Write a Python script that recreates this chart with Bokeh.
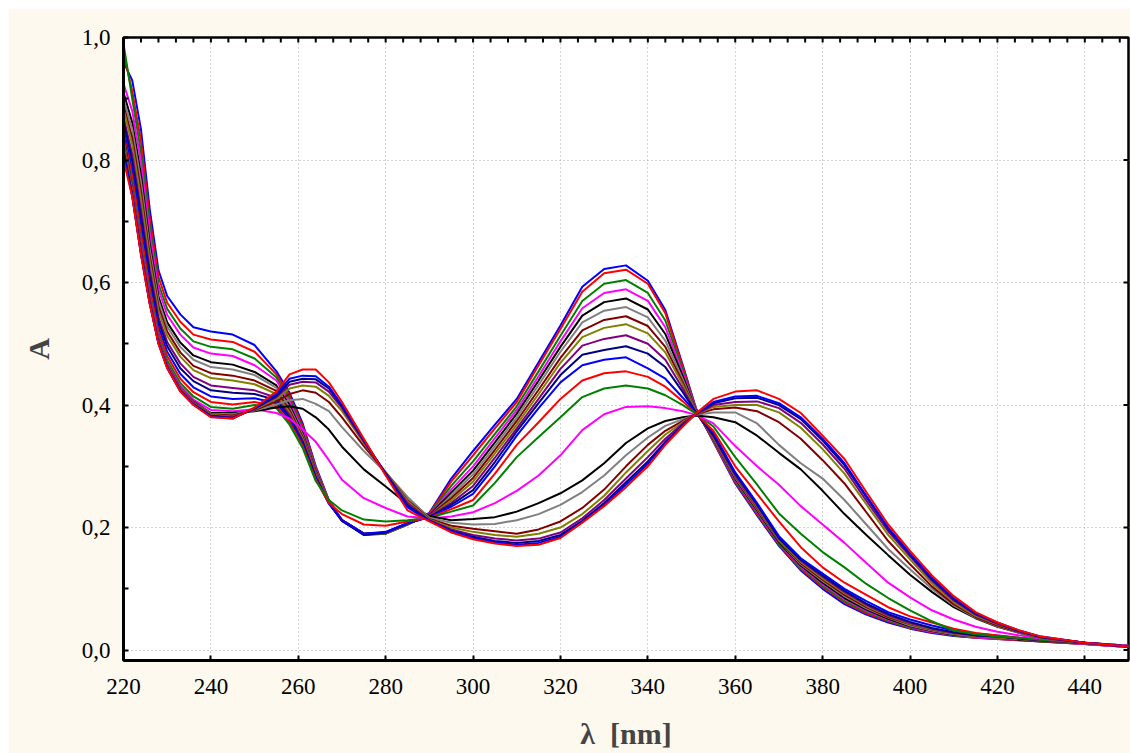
from bokeh.plotting import figure
from bokeh.models import Range1d, FixedTicker, CustomJSTickFormatter
from bokeh.embed import file_html
from bokeh.resources import INLINE

wavelength = [220, 222, 224, 226, 228, 230,
              233, 236, 240, 245, 250,
              255, 258, 261, 264, 267, 270,
              275, 280, 285, 290, 295, 300,
              305, 310, 315, 320, 325, 330,
              335, 340, 344, 348, 351, 355,
              360, 365, 370, 375, 380, 385,
              390, 395, 400, 405, 410, 415,
              420, 425, 430, 440, 450]

a01 = [0.96, 0.93, 0.85, 0.72, 0.62, 0.578,
       0.548, 0.527, 0.52, 0.515, 0.498,
       0.455, 0.42, 0.37, 0.30, 0.245, 0.212,
       0.188, 0.19, 0.205, 0.224, 0.28, 0.325,
       0.368, 0.41, 0.47, 0.53, 0.593, 0.622,
       0.628, 0.603, 0.555, 0.465, 0.395, 0.34,
       0.272, 0.22, 0.17, 0.13, 0.10, 0.075,
       0.058, 0.045, 0.035, 0.028, 0.023, 0.02,
       0.018, 0.016, 0.014, 0.01, 0.005]
a02 = [0.975, 0.912, 0.831, 0.705, 0.609, 0.567,
       0.536, 0.515, 0.507, 0.503, 0.487,
       0.45, 0.415, 0.366, 0.298, 0.244, 0.212,
       0.189, 0.19, 0.205, 0.223, 0.275, 0.318,
       0.362, 0.405, 0.465, 0.524, 0.585, 0.615,
       0.621, 0.598, 0.55, 0.462, 0.394, 0.341,
       0.274, 0.222, 0.172, 0.132, 0.103, 0.078,
       0.06, 0.047, 0.036, 0.029, 0.024, 0.02,
       0.018, 0.016, 0.014, 0.01, 0.005]
a03 = [0.99, 0.90, 0.813, 0.692, 0.598, 0.557,
       0.525, 0.504, 0.495, 0.491, 0.476,
       0.445, 0.41, 0.362, 0.296, 0.243, 0.212,
       0.189, 0.19, 0.205, 0.222, 0.268, 0.308,
       0.353, 0.398, 0.455, 0.513, 0.57, 0.598,
       0.604, 0.583, 0.538, 0.457, 0.393, 0.342,
       0.276, 0.224, 0.173, 0.134, 0.105, 0.08,
       0.062, 0.048, 0.037, 0.03, 0.024, 0.021,
       0.019, 0.017, 0.014, 0.01, 0.005]
a04 = [0.925, 0.88, 0.797, 0.68, 0.589, 0.547,
       0.515, 0.494, 0.484, 0.48, 0.465,
       0.44, 0.405, 0.358, 0.294, 0.243, 0.212,
       0.19, 0.191, 0.206, 0.221, 0.262, 0.30,
       0.346, 0.392, 0.447, 0.504, 0.558, 0.583,
       0.589, 0.57, 0.527, 0.452, 0.392, 0.343,
       0.278, 0.226, 0.175, 0.136, 0.108, 0.083,
       0.064, 0.05, 0.038, 0.03, 0.025, 0.021,
       0.019, 0.017, 0.015, 0.01, 0.005]
a05 = [0.91, 0.861, 0.776, 0.664, 0.577, 0.535,
       0.502, 0.481, 0.47, 0.466, 0.454,
       0.432, 0.40, 0.354, 0.292, 0.242, 0.212,
       0.19, 0.191, 0.206, 0.22, 0.257, 0.293,
       0.339, 0.386, 0.44, 0.495, 0.546, 0.568,
       0.574, 0.556, 0.516, 0.447, 0.391, 0.344,
       0.28, 0.228, 0.176, 0.138, 0.11, 0.085,
       0.066, 0.051, 0.039, 0.031, 0.025, 0.022,
       0.02, 0.017, 0.015, 0.011, 0.006]
a06 = [0.90, 0.85, 0.764, 0.655, 0.57, 0.528,
       0.495, 0.474, 0.462, 0.458, 0.449,
       0.428, 0.396, 0.351, 0.29, 0.242, 0.212,
       0.19, 0.191, 0.206, 0.219, 0.252, 0.287,
       0.333, 0.38, 0.433, 0.487, 0.535, 0.554,
       0.56, 0.543, 0.505, 0.442, 0.39, 0.345,
       0.282, 0.23, 0.178, 0.14, 0.113, 0.088,
       0.068, 0.053, 0.04, 0.032, 0.026, 0.022,
       0.02, 0.018, 0.015, 0.011, 0.006]
a07 = [0.89, 0.836, 0.749, 0.644, 0.561, 0.52,
       0.486, 0.464, 0.452, 0.448, 0.44,
       0.423, 0.392, 0.348, 0.288, 0.241, 0.212,
       0.19, 0.192, 0.206, 0.219, 0.248, 0.281,
       0.327, 0.374, 0.425, 0.477, 0.522, 0.539,
       0.545, 0.529, 0.495, 0.437, 0.389, 0.346,
       0.284, 0.232, 0.179, 0.142, 0.115, 0.09,
       0.07, 0.054, 0.042, 0.033, 0.027, 0.023,
       0.021, 0.018, 0.015, 0.011, 0.006]
a08 = [0.883, 0.825, 0.737, 0.635, 0.554, 0.513,
       0.479, 0.457, 0.444, 0.44, 0.434,
       0.418, 0.388, 0.345, 0.286, 0.241, 0.211,
       0.189, 0.192, 0.207, 0.218, 0.244, 0.275,
       0.321, 0.368, 0.418, 0.469, 0.511, 0.526,
       0.532, 0.517, 0.486, 0.433, 0.389, 0.347,
       0.285, 0.234, 0.18, 0.144, 0.117, 0.093,
       0.072, 0.056, 0.043, 0.034, 0.027, 0.023,
       0.021, 0.018, 0.016, 0.011, 0.006]
a09 = [0.87, 0.809, 0.719, 0.621, 0.543, 0.503,
       0.468, 0.446, 0.432, 0.428, 0.424,
       0.412, 0.384, 0.342, 0.284, 0.24, 0.211,
       0.189, 0.192, 0.207, 0.218, 0.24, 0.268,
       0.314, 0.362, 0.41, 0.459, 0.497, 0.508,
       0.514, 0.50, 0.474, 0.427, 0.388, 0.349,
       0.286, 0.236, 0.182, 0.146, 0.12, 0.095,
       0.074, 0.057, 0.044, 0.035, 0.028, 0.024,
       0.022, 0.019, 0.016, 0.011, 0.006]
a10 = [0.863, 0.798, 0.707, 0.612, 0.536, 0.496,
       0.46, 0.439, 0.424, 0.42, 0.418,
       0.408, 0.38, 0.339, 0.282, 0.24, 0.211,
       0.188, 0.192, 0.207, 0.217, 0.237, 0.261,
       0.307, 0.357, 0.403, 0.449, 0.482, 0.49,
       0.496, 0.484, 0.462, 0.421, 0.388, 0.351,
       0.288, 0.238, 0.183, 0.148, 0.122, 0.097,
       0.076, 0.059, 0.046, 0.036, 0.029, 0.024,
       0.022, 0.019, 0.016, 0.012, 0.006]
a11 = [0.852, 0.784, 0.693, 0.601, 0.528, 0.487,
       0.451, 0.429, 0.414, 0.41, 0.411,
       0.403, 0.376, 0.336, 0.28, 0.239, 0.212,
       0.19, 0.193, 0.207, 0.217, 0.234, 0.255,
       0.30, 0.35, 0.395, 0.437, 0.465, 0.474,
       0.478, 0.46, 0.443, 0.412, 0.387, 0.355,
       0.29, 0.24, 0.186, 0.15, 0.125, 0.10,
       0.08, 0.062, 0.05, 0.04, 0.032, 0.027,
       0.024, 0.02, 0.017, 0.012, 0.007]
a12 = [0.843, 0.772, 0.679, 0.591, 0.52, 0.48,
       0.443, 0.421, 0.405, 0.401, 0.405,
       0.398, 0.372, 0.333, 0.278, 0.24, 0.222,
       0.205, 0.203, 0.21, 0.216, 0.23, 0.245,
       0.288, 0.335, 0.372, 0.41, 0.44, 0.452,
       0.455, 0.446, 0.43, 0.406, 0.386, 0.358,
       0.30, 0.255, 0.21, 0.168, 0.135, 0.11,
       0.09, 0.07, 0.055, 0.045, 0.035, 0.028,
       0.024, 0.02, 0.017, 0.012, 0.007]
a13 = [0.835, 0.761, 0.667, 0.582, 0.513, 0.473,
       0.436, 0.414, 0.397, 0.394, 0.40,
       0.395, 0.368, 0.33, 0.276, 0.245, 0.228,
       0.213, 0.21, 0.212, 0.216, 0.226, 0.236,
       0.273, 0.315, 0.348, 0.38, 0.413, 0.427,
       0.432, 0.427, 0.416, 0.40, 0.386, 0.365,
       0.315, 0.27, 0.223, 0.19, 0.16, 0.135,
       0.108, 0.085, 0.065, 0.047, 0.032, 0.026,
       0.022, 0.02, 0.017, 0.012, 0.007]
a14 = [0.83, 0.754, 0.66, 0.576, 0.509, 0.468,
       0.431, 0.409, 0.392, 0.39, 0.393,
       0.387, 0.378, 0.36, 0.34, 0.31, 0.278,
       0.248, 0.232, 0.218, 0.215, 0.218, 0.225,
       0.24, 0.26, 0.285, 0.318, 0.359, 0.385,
       0.397, 0.398, 0.395, 0.39, 0.384, 0.37,
       0.333, 0.30, 0.27, 0.235, 0.205, 0.175,
       0.142, 0.11, 0.086, 0.065, 0.05, 0.038,
       0.03, 0.024, 0.019, 0.012, 0.007]
a15 = [0.84, 0.752, 0.655, 0.572, 0.506, 0.466,
       0.428, 0.406, 0.387, 0.387, 0.39,
       0.396, 0.398, 0.394, 0.38, 0.36, 0.332,
       0.295, 0.267, 0.238, 0.219, 0.212, 0.214,
       0.217, 0.226, 0.24, 0.256, 0.277, 0.305,
       0.338, 0.362, 0.374, 0.38, 0.383, 0.38,
       0.372, 0.35, 0.322, 0.295, 0.26, 0.222,
       0.188, 0.155, 0.123, 0.095, 0.07, 0.052,
       0.038, 0.028, 0.02, 0.012, 0.006]
a16 = [0.835, 0.75, 0.653, 0.571, 0.505, 0.465,
       0.427, 0.405, 0.386, 0.385, 0.391,
       0.401, 0.408, 0.41, 0.402, 0.39, 0.364,
       0.325, 0.29, 0.25, 0.216, 0.208, 0.205,
       0.206, 0.212, 0.222, 0.237, 0.258, 0.285,
       0.318, 0.347, 0.366, 0.377, 0.384, 0.388,
       0.388, 0.37, 0.335, 0.305, 0.28, 0.245,
       0.205, 0.165, 0.132, 0.10, 0.073, 0.053,
       0.039, 0.028, 0.02, 0.012, 0.006]
a17 = [0.83, 0.748, 0.651, 0.57, 0.504, 0.464,
       0.426, 0.404, 0.385, 0.383, 0.392,
       0.406, 0.418, 0.424, 0.42, 0.405, 0.38,
       0.333, 0.29, 0.245, 0.214, 0.203, 0.198,
       0.194, 0.19, 0.197, 0.21, 0.232, 0.262,
       0.30, 0.335, 0.358, 0.374, 0.385, 0.393,
       0.396, 0.39, 0.372, 0.345, 0.31, 0.272,
       0.225, 0.178, 0.14, 0.104, 0.075, 0.054,
       0.04, 0.029, 0.02, 0.012, 0.006]
a18 = [0.825, 0.746, 0.65, 0.569, 0.503, 0.463,
       0.425, 0.403, 0.384, 0.381, 0.393,
       0.41, 0.427, 0.432, 0.43, 0.415, 0.39,
       0.338, 0.29, 0.243, 0.213, 0.20, 0.193,
       0.188, 0.185, 0.19, 0.20, 0.222, 0.252,
       0.29, 0.325, 0.352, 0.372, 0.385, 0.397,
       0.40, 0.40, 0.388, 0.363, 0.328, 0.288,
       0.238, 0.188, 0.148, 0.109, 0.078, 0.056,
       0.042, 0.03, 0.02, 0.012, 0.006]
a19 = [0.82, 0.744, 0.649, 0.568, 0.502, 0.462,
       0.424, 0.402, 0.383, 0.38, 0.394,
       0.413, 0.433, 0.438, 0.437, 0.422, 0.395,
       0.34, 0.289, 0.24, 0.212, 0.197, 0.188,
       0.182, 0.179, 0.182, 0.192, 0.215, 0.245,
       0.28, 0.315, 0.345, 0.37, 0.385, 0.40,
       0.405, 0.406, 0.395, 0.371, 0.336, 0.296,
       0.244, 0.194, 0.153, 0.113, 0.081, 0.058,
       0.043, 0.03, 0.021, 0.012, 0.006]
a20 = [0.815, 0.742, 0.648, 0.567, 0.501, 0.461,
       0.423, 0.401, 0.382, 0.379, 0.394,
       0.415, 0.438, 0.443, 0.442, 0.427, 0.398,
       0.342, 0.288, 0.236, 0.211, 0.195, 0.185,
       0.178, 0.175, 0.178, 0.188, 0.211, 0.24,
       0.274, 0.308, 0.34, 0.367, 0.385, 0.403,
       0.411, 0.412, 0.40, 0.377, 0.342, 0.302,
       0.25, 0.198, 0.156, 0.116, 0.083, 0.059,
       0.044, 0.031, 0.021, 0.012, 0.006]
a21 = [0.81, 0.741, 0.647, 0.566, 0.501, 0.461,
       0.423, 0.401, 0.381, 0.378, 0.395,
       0.418, 0.443, 0.448, 0.447, 0.43, 0.40,
       0.343, 0.287, 0.233, 0.211, 0.194, 0.183,
       0.176, 0.172, 0.175, 0.185, 0.209, 0.237,
       0.27, 0.304, 0.338, 0.366, 0.386, 0.405,
       0.414, 0.415, 0.403, 0.38, 0.345, 0.305,
       0.252, 0.20, 0.158, 0.118, 0.085, 0.06,
       0.045, 0.032, 0.022, 0.012, 0.006]
a22 = [0.80, 0.74, 0.645, 0.565, 0.50, 0.46,
       0.422, 0.40, 0.38, 0.378, 0.396,
       0.422, 0.45, 0.458, 0.458, 0.437, 0.405,
       0.345, 0.285, 0.228, 0.21, 0.192, 0.181,
       0.174, 0.17, 0.172, 0.183, 0.208, 0.235,
       0.266, 0.30, 0.335, 0.365, 0.386, 0.41,
       0.422, 0.424, 0.41, 0.387, 0.35, 0.312,
       0.258, 0.205, 0.162, 0.122, 0.088, 0.062,
       0.045, 0.032, 0.022, 0.012, 0.006]

curves = [a01, a02, a03, a04, a05, a06, a07, a08, a09, a10, a11,
          a12, a13, a14, a15, a16, a17, a18, a19, a20, a21, a22]
colors = ["#0000FF", "#FF0000", "#008000", "#FF00FF", "#000000",
          "#808080", "#800000", "#808000", "#800080", "#000080",
          "#0000FF", "#FF0000", "#008000", "#FF00FF", "#000000",
          "#808080", "#800000", "#808000", "#800080", "#000080",
          "#0000FF", "#FF0000"]

x_ticks = [220, 240, 260, 280, 300, 320, 340, 360, 380, 400, 420, 440]
y_ticks = [0.0, 0.2, 0.4, 0.6, 0.8, 1.0]
y_minor = [0.1, 0.3, 0.5, 0.7, 0.9]
top_ticks = list(range(224, 450, 4))

for c in curves:
    assert len(c) == len(wavelength), len(c)

X0, X1 = 220, 450
Y0, Y1 = -0.017, 1.0
FONT = "Liberation Serif"

p = figure(width=1122, height=745, output_backend="svg", toolbar_location=None,
           x_range=Range1d(X0, X1), y_range=Range1d(Y0, Y1),
           min_border_left=115, min_border_right=2, min_border_top=29,
           min_border_bottom=93, margin=(8, 0, 0, 8),
           background_fill_color="white", border_fill_color="#FDF9EE")
p.outline_line_color = "black"
p.outline_line_width = 2.5

# grid
p.xgrid.ticker = FixedTicker(ticks=x_ticks)
p.ygrid.ticker = FixedTicker(ticks=y_ticks)
p.grid.grid_line_color = "#A8A8A8"
p.grid.grid_line_dash = "1 3"
p.grid.grid_line_width = 1

for ys, col in zip(curves, colors):
    p.line(wavelength, ys, line_color=col, line_width=2)

# inward tick marks along the top and right frame edges
tick_dy = 5.0 * (Y1 - Y0) / 623.0
tick_dx = 5.0 * (X1 - X0) / 1005.0
p.segment(x0=top_ticks, y0=[Y1] * len(top_ticks),
          x1=top_ticks, y1=[Y1 - tick_dy] * len(top_ticks),
          line_color="black", line_width=2)
p.segment(x0=[X1] * len(y_ticks), y0=y_ticks,
          x1=[X1 - tick_dx] * len(y_ticks), y1=y_ticks,
          line_color="black", line_width=2)

# bottom axis
xa = p.xaxis[0]
xa.ticker = FixedTicker(ticks=x_ticks)
xa.axis_line_width = 3
xa.major_tick_in = 5
xa.major_tick_out = 0
xa.major_tick_line_width = 2
xa.minor_tick_line_color = None
xa.major_label_text_font = FONT
xa.major_label_text_font_size = "23px"
xa.major_label_text_color = "black"
xa.major_label_standoff = 18
xa.axis_label = "\u03bb\u2002[nm]"
xa.axis_label_text_font = FONT
xa.axis_label_text_font_style = "bold"
xa.axis_label_text_font_size = "30px"
xa.axis_label_standoff = 20

# left axis
ya = p.yaxis[0]
ya.ticker = FixedTicker(ticks=y_ticks, minor_ticks=y_minor)
ya.formatter = CustomJSTickFormatter(code="return tick.toFixed(1).replace('.', ',');")
ya.axis_line_width = 3
ya.major_tick_in = 5
ya.major_tick_out = 0
ya.major_tick_line_width = 2
ya.minor_tick_in = 5
ya.minor_tick_out = 0
ya.minor_tick_line_width = 2
ya.major_label_text_font = FONT
ya.major_label_text_font_size = "23px"
ya.major_label_text_color = "black"
ya.major_label_standoff = 13
ya.axis_label = "A"
ya.axis_label_text_font = FONT
ya.axis_label_text_font_style = "bold"
ya.axis_label_text_font_size = "30px"
ya.axis_label_standoff = 24

open("out.html", "w").write(file_html(p, INLINE))
